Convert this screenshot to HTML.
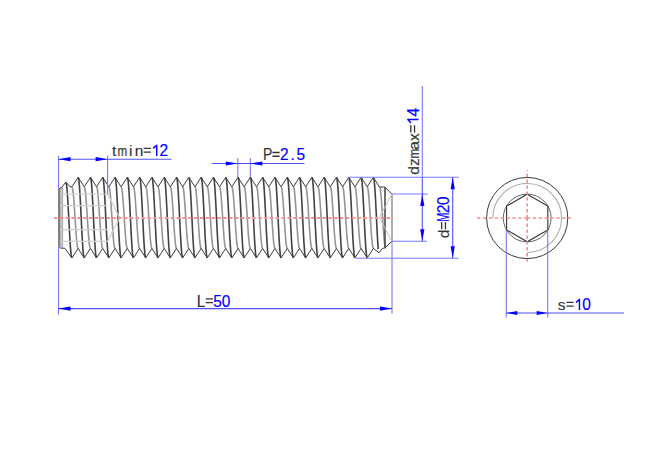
<!DOCTYPE html>
<html><head><meta charset="utf-8"><style>
html,body{margin:0;padding:0;background:#fff;width:660px;height:457px;overflow:hidden}
svg{display:block}
text{font-family:"Liberation Sans",sans-serif;font-size:15.5px;text-anchor:middle;stroke-width:0.15px}
</style></head><body>
<svg width="660" height="457" viewBox="0 0 660 457">
<rect width="660" height="457" fill="#fff"/>
<path d="M71.95 186.8L72.46 187.85 72.97 190.93 73.49 195.82 74 202.2 74.51 209.63 75.02 217.6 75.54 225.57 76.05 233 76.56 239.38 77.07 244.27 77.59 247.35 78.1 248.4M84.25 186.8L84.76 187.85 85.28 190.93 85.79 195.82 86.3 202.2 86.81 209.63 87.33 217.6 87.84 225.57 88.35 233 88.87 239.38 89.38 244.27 89.89 247.35 90.4 248.4M96.55 186.8L97.07 187.85 97.58 190.93 98.09 195.82 98.6 202.2 99.12 209.63 99.63 217.6 100.14 225.57 100.66 233 101.17 239.38 101.68 244.27 102.19 247.35 102.71 248.4M108.86 186.8L109.37 187.85 109.88 190.93 110.4 195.82 110.91 202.2 111.42 209.63 111.93 217.6 112.45 225.57 112.96 233 113.47 239.38 113.98 244.27 114.5 247.35 115.01 248.4M121.16 186.8L121.67 187.85 122.19 190.93 122.7 195.82 123.21 202.2 123.72 209.63 124.24 217.6 124.75 225.57 125.26 233 125.77 239.38 126.29 244.27 126.8 247.35 127.31 248.4M133.46 186.8L133.98 187.85 134.49 190.93 135 195.82 135.51 202.2 136.03 209.63 136.54 217.6 137.05 225.57 137.56 233 138.08 239.38 138.59 244.27 139.1 247.35 139.62 248.4M145.77 186.8L146.28 187.85 146.79 190.93 147.3 195.82 147.82 202.2 148.33 209.63 148.84 217.6 149.35 225.57 149.87 233 150.38 239.38 150.89 244.27 151.41 247.35 151.92 248.4M158.07 186.8L158.58 187.85 159.09 190.93 159.61 195.82 160.12 202.2 160.63 209.63 161.15 217.6 161.66 225.57 162.17 233 162.68 239.38 163.2 244.27 163.71 247.35 164.22 248.4M170.37 186.8L170.89 187.85 171.4 190.93 171.91 195.82 172.42 202.2 172.94 209.63 173.45 217.6 173.96 225.57 174.47 233 174.99 239.38 175.5 244.27 176.01 247.35 176.52 248.4M182.68 186.8L183.19 187.85 183.7 190.93 184.21 195.82 184.73 202.2 185.24 209.63 185.75 217.6 186.26 225.57 186.78 233 187.29 239.38 187.8 244.27 188.31 247.35 188.83 248.4M194.98 186.8L195.49 187.85 196 190.93 196.52 195.82 197.03 202.2 197.54 209.63 198.05 217.6 198.57 225.57 199.08 233 199.59 239.38 200.1 244.27 200.62 247.35 201.13 248.4M207.28 186.8L207.79 187.85 208.31 190.93 208.82 195.82 209.33 202.2 209.84 209.63 210.36 217.6 210.87 225.57 211.38 233 211.9 239.38 212.41 244.27 212.92 247.35 213.43 248.4M219.58 186.8L220.1 187.85 220.61 190.93 221.12 195.82 221.63 202.2 222.15 209.63 222.66 217.6 223.17 225.57 223.69 233 224.2 239.38 224.71 244.27 225.22 247.35 225.74 248.4M231.89 186.8L232.4 187.85 232.91 190.93 233.43 195.82 233.94 202.2 234.45 209.63 234.96 217.6 235.48 225.57 235.99 233 236.5 239.38 237.01 244.27 237.53 247.35 238.04 248.4M244.19 186.8L244.7 187.85 245.22 190.93 245.73 195.82 246.24 202.2 246.75 209.63 247.27 217.6 247.78 225.57 248.29 233 248.8 239.38 249.32 244.27 249.83 247.35 250.34 248.4M256.49 186.8L257.01 187.85 257.52 190.93 258.03 195.82 258.54 202.2 259.06 209.63 259.57 217.6 260.08 225.57 260.59 233 261.11 239.38 261.62 244.27 262.13 247.35 262.65 248.4M268.8 186.8L269.31 187.85 269.82 190.93 270.33 195.82 270.85 202.2 271.36 209.63 271.87 217.6 272.38 225.57 272.9 233 273.41 239.38 273.92 244.27 274.44 247.35 274.95 248.4M281.1 186.8L281.61 187.85 282.12 190.93 282.64 195.82 283.15 202.2 283.66 209.63 284.18 217.6 284.69 225.57 285.2 233 285.71 239.38 286.23 244.27 286.74 247.35 287.25 248.4M293.4 186.8L293.92 187.85 294.43 190.93 294.94 195.82 295.45 202.2 295.97 209.63 296.48 217.6 296.99 225.57 297.5 233 298.02 239.38 298.53 244.27 299.04 247.35 299.55 248.4M305.71 186.8L306.22 187.85 306.73 190.93 307.24 195.82 307.76 202.2 308.27 209.63 308.78 217.6 309.29 225.57 309.81 233 310.32 239.38 310.83 244.27 311.34 247.35 311.86 248.4M318.01 186.8L318.52 187.85 319.03 190.93 319.55 195.82 320.06 202.2 320.57 209.63 321.08 217.6 321.6 225.57 322.11 233 322.62 239.38 323.13 244.27 323.65 247.35 324.16 248.4M330.31 186.8L330.82 187.85 331.34 190.93 331.85 195.82 332.36 202.2 332.87 209.63 333.39 217.6 333.9 225.57 334.41 233 334.93 239.38 335.44 244.27 335.95 247.35 336.46 248.4M342.61 186.8L343.13 187.85 343.64 190.93 344.15 195.82 344.67 202.2 345.18 209.63 345.69 217.6 346.2 225.57 346.72 233 347.23 239.38 347.74 244.27 348.25 247.35 348.77 248.4M354.92 186.8L355.43 187.85 355.94 190.93 356.46 195.82 356.97 202.2 357.48 209.63 357.99 217.6 358.51 225.57 359.02 233 359.53 239.38 360.04 244.27 360.56 247.35 361.07 248.4M367.22 186.8L367.73 187.85 368.25 190.93 368.76 195.82 369.27 202.2 369.78 209.63 370.3 217.6 370.81 225.57 371.32 233 371.83 239.38 372.35 244.27 372.86 247.35 373.37 248.4M379.52 186.8L380.04 187.85 380.55 190.93 381.06 195.82 381.57 202.2 382.09 209.63 382.6 217.6 383.11 225.57 383.62 233 384.14 239.38 384.65 244.27 385.16 247.35 385.68 248.4" fill="none" stroke="#959595" stroke-width="1.6"/>
<path d="M65.8 182L66.24 182.95 66.68 185.76 67.12 190.28 67.55 196.29 67.99 203.48 68.43 211.51 68.87 219.95 69.31 228.39 69.75 236.42 70.19 243.61 70.63 249.62 71.07 254.14 71.51 256.95 71.95 257.9M78.1 177.3L78.54 178.31 78.98 181.29 79.42 186.09 79.86 192.47 80.3 200.11 80.74 208.63 81.18 217.6 81.62 226.57 82.05 235.09 82.49 242.73 82.93 249.11 83.37 253.91 83.81 256.89 84.25 257.9M90.4 177.3L90.84 178.31 91.28 181.29 91.72 186.09 92.16 192.47 92.6 200.11 93.04 208.63 93.48 217.6 93.92 226.57 94.36 235.09 94.8 242.73 95.24 249.11 95.68 253.91 96.12 256.89 96.55 257.9M102.71 177.3L103.15 178.31 103.58 181.29 104.02 186.09 104.46 192.47 104.9 200.11 105.34 208.63 105.78 217.6 106.22 226.57 106.66 235.09 107.1 242.73 107.54 249.11 107.98 253.91 108.42 256.89 108.86 257.9M115.01 177.3L115.45 178.31 115.89 181.29 116.33 186.09 116.77 192.47 117.21 200.11 117.65 208.63 118.08 217.6 118.52 226.57 118.96 235.09 119.4 242.73 119.84 249.11 120.28 253.91 120.72 256.89 121.16 257.9M127.31 177.3L127.75 178.31 128.19 181.29 128.63 186.09 129.07 192.47 129.51 200.11 129.95 208.63 130.39 217.6 130.83 226.57 131.27 235.09 131.71 242.73 132.15 249.11 132.58 253.91 133.02 256.89 133.46 257.9M139.62 177.3L140.05 178.31 140.49 181.29 140.93 186.09 141.37 192.47 141.81 200.11 142.25 208.63 142.69 217.6 143.13 226.57 143.57 235.09 144.01 242.73 144.45 249.11 144.89 253.91 145.33 256.89 145.77 257.9M151.92 177.3L152.36 178.31 152.8 181.29 153.24 186.09 153.68 192.47 154.11 200.11 154.55 208.63 154.99 217.6 155.43 226.57 155.87 235.09 156.31 242.73 156.75 249.11 157.19 253.91 157.63 256.89 158.07 257.9M164.22 177.3L164.66 178.31 165.1 181.29 165.54 186.09 165.98 192.47 166.42 200.11 166.86 208.63 167.3 217.6 167.74 226.57 168.18 235.09 168.61 242.73 169.05 249.11 169.49 253.91 169.93 256.89 170.37 257.9M176.52 177.3L176.96 178.31 177.4 181.29 177.84 186.09 178.28 192.47 178.72 200.11 179.16 208.63 179.6 217.6 180.04 226.57 180.48 235.09 180.92 242.73 181.36 249.11 181.8 253.91 182.24 256.89 182.68 257.9M188.83 177.3L189.27 178.31 189.71 181.29 190.15 186.09 190.58 192.47 191.02 200.11 191.46 208.63 191.9 217.6 192.34 226.57 192.78 235.09 193.22 242.73 193.66 249.11 194.1 253.91 194.54 256.89 194.98 257.9M201.13 177.3L201.57 178.31 202.01 181.29 202.45 186.09 202.89 192.47 203.33 200.11 203.77 208.63 204.21 217.6 204.65 226.57 205.08 235.09 205.52 242.73 205.96 249.11 206.4 253.91 206.84 256.89 207.28 257.9M213.43 177.3L213.87 178.31 214.31 181.29 214.75 186.09 215.19 192.47 215.63 200.11 216.07 208.63 216.51 217.6 216.95 226.57 217.39 235.09 217.83 242.73 218.27 249.11 218.71 253.91 219.15 256.89 219.58 257.9M225.74 177.3L226.18 178.31 226.61 181.29 227.05 186.09 227.49 192.47 227.93 200.11 228.37 208.63 228.81 217.6 229.25 226.57 229.69 235.09 230.13 242.73 230.57 249.11 231.01 253.91 231.45 256.89 231.89 257.9M238.04 177.3L238.48 178.31 238.92 181.29 239.36 186.09 239.8 192.47 240.24 200.11 240.68 208.63 241.11 217.6 241.55 226.57 241.99 235.09 242.43 242.73 242.87 249.11 243.31 253.91 243.75 256.89 244.19 257.9M250.34 177.3L250.78 178.31 251.22 181.29 251.66 186.09 252.1 192.47 252.54 200.11 252.98 208.63 253.42 217.6 253.86 226.57 254.3 235.09 254.74 242.73 255.18 249.11 255.61 253.91 256.05 256.89 256.49 257.9M262.64 177.3L263.08 178.31 263.52 181.29 263.96 186.09 264.4 192.47 264.84 200.11 265.28 208.63 265.72 217.6 266.16 226.57 266.6 235.09 267.04 242.73 267.48 249.11 267.92 253.91 268.36 256.89 268.8 257.9M274.95 177.3L275.39 178.31 275.83 181.29 276.27 186.09 276.71 192.47 277.14 200.11 277.58 208.63 278.02 217.6 278.46 226.57 278.9 235.09 279.34 242.73 279.78 249.11 280.22 253.91 280.66 256.89 281.1 257.9M287.25 177.3L287.69 178.31 288.13 181.29 288.57 186.09 289.01 192.47 289.45 200.11 289.89 208.63 290.33 217.6 290.77 226.57 291.21 235.09 291.64 242.73 292.08 249.11 292.52 253.91 292.96 256.89 293.4 257.9M299.55 177.3L299.99 178.31 300.43 181.29 300.87 186.09 301.31 192.47 301.75 200.11 302.19 208.63 302.63 217.6 303.07 226.57 303.51 235.09 303.95 242.73 304.39 249.11 304.83 253.91 305.27 256.89 305.71 257.9M311.86 177.3L312.3 178.31 312.74 181.29 313.18 186.09 313.61 192.47 314.05 200.11 314.49 208.63 314.93 217.6 315.37 226.57 315.81 235.09 316.25 242.73 316.69 249.11 317.13 253.91 317.57 256.89 318.01 257.9M324.16 177.3L324.6 178.31 325.04 181.29 325.48 186.09 325.92 192.47 326.36 200.11 326.8 208.63 327.24 217.6 327.68 226.57 328.11 235.09 328.55 242.73 328.99 249.11 329.43 253.91 329.87 256.89 330.31 257.9M336.46 177.3L336.9 178.31 337.34 181.29 337.78 186.09 338.22 192.47 338.66 200.11 339.1 208.63 339.54 217.6 339.98 226.57 340.42 235.09 340.86 242.73 341.3 249.11 341.74 253.91 342.18 256.89 342.61 257.9M348.77 177.3L349.21 178.31 349.64 181.29 350.08 186.09 350.52 192.47 350.96 200.11 351.4 208.63 351.84 217.6 352.28 226.57 352.72 235.09 353.16 242.73 353.6 249.11 354.04 253.91 354.48 256.89 354.92 257.9M361.07 177.3L361.51 178.31 361.95 181.29 362.39 186.09 362.83 192.47 363.27 200.11 363.71 208.63 364.14 217.6 364.58 226.57 365.02 235.09 365.46 242.73 365.9 249.11 366.34 253.91 366.78 256.89 367.22 257.9M373.37 177.3L373.81 178.31 374.25 181.29 374.69 186.09 375.13 192.47 375.57 200.11 376.01 208.63 376.45 217.6 376.89 226.57 377.33 235.09 377.77 242.73 378.21 249.11" fill="none" stroke="#424242" stroke-width="1.6"/>
<polyline points="58.8,188.6 61.8,187.3 65.8,182 70,186.8 71.95,186.8 78.1,177.3 84.25,186.8 90.4,177.3 96.55,186.8 102.71,177.3 108.86,186.8 115.01,177.3 121.16,186.8 127.31,177.3 133.46,186.8 139.62,177.3 145.77,186.8 151.92,177.3 158.07,186.8 164.22,177.3 170.37,186.8 176.52,177.3 182.68,186.8 188.83,177.3 194.98,186.8 201.13,177.3 207.28,186.8 213.43,177.3 219.58,186.8 225.74,177.3 231.89,186.8 238.04,177.3 244.19,186.8 250.34,177.3 256.49,186.8 262.64,177.3 268.8,186.8 274.95,177.3 281.1,186.8 287.25,177.3 293.4,186.8 299.55,177.3 305.71,186.8 311.86,177.3 318.01,186.8 324.16,177.3 330.31,186.8 336.46,177.3 342.61,186.8 348.77,177.3 354.92,186.8 361.07,177.3 367.22,186.8 373.37,177.3 379.4,187 384.8,187 391.8,194" fill="none" stroke="#3c3c3c" stroke-width="1.0" stroke-linejoin="round"/>
<polyline points="58.8,246.4 60.5,248.2 64.8,248.2 71.95,257.9 78.1,248.4 84.25,257.9 90.4,248.4 96.55,257.9 102.71,248.4 108.86,257.9 115.01,248.4 121.16,257.9 127.31,248.4 133.46,257.9 139.62,248.4 145.77,257.9 151.92,248.4 158.07,257.9 164.22,248.4 170.37,257.9 176.52,248.4 182.68,257.9 188.83,248.4 194.98,257.9 201.13,248.4 207.28,257.9 213.43,248.4 219.58,257.9 225.74,248.4 231.89,257.9 238.04,248.4 244.19,257.9 250.34,248.4 256.49,257.9 262.64,248.4 268.8,257.9 274.95,248.4 281.1,257.9 287.25,248.4 293.4,257.9 299.55,248.4 305.71,257.9 311.86,248.4 318.01,257.9 324.16,248.4 330.31,257.9 336.46,248.4 342.61,257.9 348.77,248.4 354.92,257.9 361.07,248.4 367.22,257.9 373.37,248.4 379,252.8 382.3,248.5 385.3,247.7 391.8,241.2" fill="none" stroke="#3c3c3c" stroke-width="1.0" stroke-linejoin="round"/>
<line x1="59" y1="188.6" x2="59" y2="246.4" stroke="#5a5a5a" stroke-width="1.5"/>
<line x1="60.9" y1="188" x2="60.9" y2="247.5" stroke="#8a8a8a" stroke-width="1.1"/>
<line x1="62.6" y1="187.3" x2="62.6" y2="248.2" stroke="#a0a0a0" stroke-width="1"/>
<line x1="385" y1="187" x2="385" y2="247.7" stroke="#4a4a4a" stroke-width="1.6"/>
<line x1="392" y1="194" x2="392" y2="241.2" stroke="#9a9a9a" stroke-width="1.6"/>
<polyline points="391.8,194 379.5,217.6 391.8,241.2" fill="none" stroke="#c4c4c4" stroke-width="1"/>
<path d="M60 194H107.6M60 205.7H107.6M60 229.6H107.6M60 241.3H107.6M107.6 194L119.7 218L107.6 241.3" fill="none" stroke="#d0d0d0" stroke-width="1.2"/>
<line x1="54" y1="218" x2="393" y2="218" stroke="#ff8a8a" stroke-width="1.8" stroke-dasharray="3.3 2.538"/>
<circle cx="527.2" cy="218" r="40.6" fill="none" stroke="#3a3a3a" stroke-width="1"/>
<path d="M492.8 218 A34.4 34.4 0 1 1 527.2 252.4" fill="none" stroke="#ababab" stroke-width="1.05"/>
<circle cx="527.2" cy="218" r="23.9" fill="none" stroke="#666" stroke-width="1"/>
<polygon points="527.2,194.2 547.81,206.1 547.81,229.9 527.2,241.8 506.59,229.9 506.59,206.1" fill="none" stroke="#333" stroke-width="1.1"/>
<path d="M524.2 218H530.2M532.8 218H536.1M538.7 218H542M544.6 218H547.9M550.5 218H553.8M556.4 218H559.7M562.3 218H565.6M568.2 218H571M518.3 218H521.6M512.4 218H515.7M506.5 218H509.8M500.6 218H503.9M494.7 218H498M488.8 218H492.1M482.9 218H486.2M477 218H480.3M527.2 215V221M527.2 223.6V226.9M527.2 229.5V232.8M527.2 235.4V238.7M527.2 241.3V244.6M527.2 247.2V250.5M527.2 253.1V256.4M527.2 259V261.5M527.2 209.1V212.4M527.2 203.2V206.5M527.2 197.3V200.6M527.2 191.4V194.7M527.2 185.5V188.8M527.2 179.6V182.9M527.2 173.7V177M527.2 170V171.1" fill="none" stroke="#ff8a8a" stroke-width="1.6"/>
<line x1="58.5" y1="155.8" x2="58.5" y2="188.6" stroke="#7878ff" stroke-width="1.1"/>
<line x1="107.6" y1="155.8" x2="107.6" y2="194" stroke="#7878ff" stroke-width="1.1"/>
<line x1="58.5" y1="159.2" x2="171.5" y2="159.2" stroke="#5050ff" stroke-width="1.1"/>
<polygon points="58.5,159.2 70.5,157.1 70.5,161.3" fill="#0000ff"/>
<polygon points="107.6,159.2 95.6,161.3 95.6,157.1" fill="#0000ff"/>
<line x1="237.8" y1="158" x2="237.8" y2="177.3" stroke="#7878ff" stroke-width="1.1"/>
<line x1="250.3" y1="158" x2="250.3" y2="177.3" stroke="#7878ff" stroke-width="1.1"/>
<line x1="212" y1="163.5" x2="304.5" y2="163.5" stroke="#5050ff" stroke-width="1.1"/>
<polygon points="237.8,163.5 225.8,165.6 225.8,161.4" fill="#0000ff"/>
<polygon points="250.3,163.5 262.3,161.4 262.3,165.6" fill="#0000ff"/>
<line x1="58.5" y1="246.4" x2="58.5" y2="314.5" stroke="#7878ff" stroke-width="1.1"/>
<line x1="392" y1="241.2" x2="392" y2="313.5" stroke="#7878ff" stroke-width="1.1"/>
<line x1="58.5" y1="308.6" x2="392" y2="308.6" stroke="#5050ff" stroke-width="1.1"/>
<polygon points="58.5,308.6 70.5,306.5 70.5,310.7" fill="#0000ff"/>
<polygon points="392,308.6 380,310.7 380,306.5" fill="#0000ff"/>
<line x1="348.5" y1="177.2" x2="458.8" y2="177.2" stroke="#7878ff" stroke-width="1.1"/>
<line x1="355.5" y1="258.2" x2="458.8" y2="258.2" stroke="#7878ff" stroke-width="1.1"/>
<line x1="452.7" y1="177.2" x2="452.7" y2="258.2" stroke="#5050ff" stroke-width="1.1"/>
<polygon points="452.7,177.2 454.8,189.2 450.6,189.2" fill="#0000ff"/>
<polygon points="452.7,258.2 450.6,246.2 454.8,246.2" fill="#0000ff"/>
<line x1="392" y1="194" x2="428" y2="194" stroke="#7878ff" stroke-width="1.1"/>
<line x1="392" y1="241.2" x2="427" y2="241.2" stroke="#7878ff" stroke-width="1.1"/>
<line x1="422.3" y1="86" x2="422.3" y2="177.5" stroke="#7878ff" stroke-width="1.1"/>
<line x1="422.3" y1="177.5" x2="422.3" y2="241.2" stroke="#5050ff" stroke-width="1.1"/>
<polygon points="422.3,194 424.4,206 420.2,206" fill="#0000ff"/>
<polygon points="422.3,241.2 420.2,229.2 424.4,229.2" fill="#0000ff"/>
<line x1="506.3" y1="229.7" x2="506.3" y2="317.5" stroke="#7878ff" stroke-width="1.1"/>
<line x1="547.7" y1="229.7" x2="547.7" y2="317.5" stroke="#7878ff" stroke-width="1.1"/>
<line x1="506.3" y1="313" x2="624" y2="313" stroke="#5050ff" stroke-width="1.1"/>
<polygon points="506.3,313 517.3,310.9 517.3,315.1" fill="#0000ff"/>
<polygon points="547.7,313 536.7,315.1 536.7,310.9" fill="#0000ff"/>
<g transform="translate(109.95 156)"><text transform="translate(4.15 0) scale(1 0.95)" fill="#333" stroke="#333">t</text><text transform="translate(12.45 0) scale(0.75 0.95)" fill="#333" stroke="#333">m</text><text transform="translate(20.75 0) scale(1 0.95)" fill="#333" stroke="#333">i</text><text transform="translate(29.05 0) scale(1 0.95)" fill="#333" stroke="#333">n</text><path d="M33.75 -7.7h7.2M33.75 -3.95h7.2" fill="none" stroke="#333" stroke-width="1.3"/><path d="M46.75 0V-10.7L43.25 -7.6" fill="none" stroke="#0000ff" stroke-width="1.45" stroke-linejoin="round"/><text transform="translate(53.95 0) scale(1 1.12)" fill="#0000ff" stroke="#0000ff">2</text></g>
<g transform="translate(263.55 160.2)"><text transform="translate(4.15 0) scale(0.9 1.12)" fill="#333" stroke="#333">P</text><path d="M8.85 -7.7h7.2M8.85 -3.95h7.2" fill="none" stroke="#333" stroke-width="1.3"/><text transform="translate(20.75 0) scale(1 1.12)" fill="#0000ff" stroke="#0000ff">2</text><text transform="translate(29.05 0)" fill="#0000ff" stroke="#0000ff">.</text><text transform="translate(37.35 0) scale(1 1.12)" fill="#0000ff" stroke="#0000ff">5</text></g>
<g transform="translate(196.9 306.5)"><text transform="translate(4.15 0) scale(1 1.12)" fill="#333" stroke="#333">L</text><path d="M8.85 -7.7h7.2M8.85 -3.95h7.2" fill="none" stroke="#333" stroke-width="1.3"/><text transform="translate(20.75 0) scale(1 1.12)" fill="#0000ff" stroke="#0000ff">5</text><text transform="translate(29.05 0) scale(1 1.12)" fill="#0000ff" stroke="#0000ff">0</text></g>
<g transform="translate(557.6 310.1)"><text transform="translate(4.15 0) scale(1 0.95)" fill="#333" stroke="#333">s</text><path d="M8.85 -7.7h7.2M8.85 -3.95h7.2" fill="none" stroke="#333" stroke-width="1.3"/><path d="M21.85 0V-10.7L18.35 -7.6" fill="none" stroke="#0000ff" stroke-width="1.45" stroke-linejoin="round"/><text transform="translate(29.05 0) scale(1 1.12)" fill="#0000ff" stroke="#0000ff">0</text></g>
<g transform="translate(418.5 174.5) rotate(-90)"><text transform="translate(4.15 0) scale(1 0.95)" fill="#333" stroke="#333">d</text><text transform="translate(12.45 0) scale(1 0.95)" fill="#333" stroke="#333">z</text><text transform="translate(20.75 0) scale(0.75 0.95)" fill="#333" stroke="#333">m</text><text transform="translate(29.05 0) scale(1 0.95)" fill="#333" stroke="#333">a</text><text transform="translate(37.35 0) scale(1 0.95)" fill="#333" stroke="#333">x</text><path d="M42.05 -7.7h7.2M42.05 -3.95h7.2" fill="none" stroke="#333" stroke-width="1.3"/><path d="M55.05 0V-10.7L51.55 -7.6" fill="none" stroke="#0000ff" stroke-width="1.45" stroke-linejoin="round"/><text transform="translate(62.25 0) scale(1 1.12)" fill="#0000ff" stroke="#0000ff">4</text></g>
<g transform="translate(449.4 238.05) rotate(-90)"><text transform="translate(4.15 0) scale(1 0.95)" fill="#333" stroke="#333">d</text><path d="M8.85 -7.7h7.2M8.85 -3.95h7.2" fill="none" stroke="#333" stroke-width="1.3"/><text transform="translate(20.75 0) scale(0.7 1.12)" fill="#0000ff" stroke="#0000ff">M</text><text transform="translate(29.05 0) scale(1 1.12)" fill="#0000ff" stroke="#0000ff">2</text><text transform="translate(37.35 0) scale(1 1.12)" fill="#0000ff" stroke="#0000ff">0</text></g>
</svg>
</body></html>
